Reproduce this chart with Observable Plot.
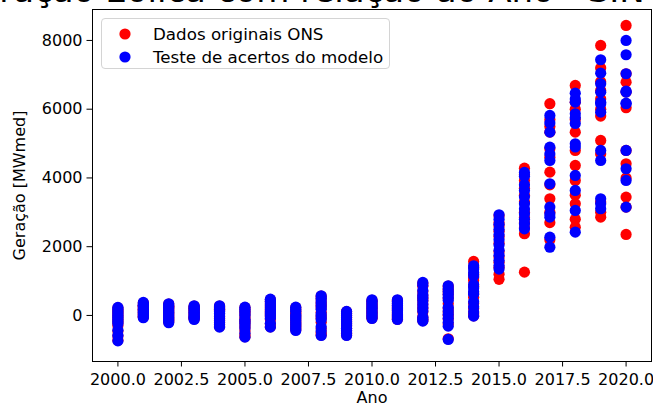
<!DOCTYPE html>
<html><head><meta charset="utf-8">
<script src="https://cdn.jsdelivr.net/npm/d3@7"></script>
<script src="https://cdn.jsdelivr.net/npm/@observablehq/plot@0.6"></script>
<style>
body{margin:0;background:#fff;}
#wrap{position:relative;width:653px;height:405px;overflow:hidden;font-family:"DejaVu Sans",sans-serif;background:#fff;}
#wrap > svg.chart{position:absolute;left:0;top:0;}
#title{position:absolute;left:0;top:0;display:block;}
#legend{position:absolute;left:101px;top:18px;width:289px;height:51px;border:1px solid #d4d4d4;border-radius:4px;background:rgba(255,255,255,0.8);box-sizing:border-box;font-size:16.7px;color:#000;padding-top:3px;}
#legend .row{display:flex;align-items:center;height:23.5px;white-space:nowrap;}
#legend svg{margin-left:17px;margin-right:22px;}
</style></head><body>
<div id="wrap"></div>
<script>
const anos = [2000,2001,2002,2003,2004,2005,2006,2007,2008,2009,2010,2011,2012,2013,2014,2015,2016,2017,2018,2019,2020];
const originais = [
  [220,150,90,20,-40,-100,-160,-220,-300,-450,-600,-720],
  [360,300,250,200,150,100,60,20,-20,-50,270,170],
  [330,270,210,160,110,60,10,-40,-90,-140,-190,250],
  [270,230,190,150,110,70,30,-10,-50,-80,-100,200],
  [270,210,150,100,40,-20,-80,-140,-200,-260,-320,180],
  [230,160,90,20,-67,-140,-200,-270,-350,-450,-560,-620],
  [460,390,320,260,200,140,80,20,-40,-120,-250,-330],
  [230,160,67,0,-60,-120,-180,-240,-300,-360,-420,100],
  [560,480,380,300,220,96,0,-80,-200,-380,-500,-570],
  [110,50,-10,-70,-130,-190,-250,-310,-380,-450,-520,-570],
  [440,390,340,290,240,190,140,90,40,-10,-60,-80],
  [440,390,330,280,230,180,130,80,30,-20,-80,-110],
  [940,850,700,580,500,420,310,210,110,-40,-100,-150],
  [850,760,680,600,500,340,200,100,0,-100,-250,-680],
  [1571,1400,1200,1100,1018,850,650,532,350,200,50,-10],
  [2900,2700,2600,2450,2300,2100,1850,1700,1550,1400,1200,1050],
  [4285,4100,3927,3700,3500,3300,3000,2850,2700,2550,2376,1260],
  [6159,5700,5500,5332,4850,4600,4169,3800,3395,3000,2700,2200],
  [6690,6205,6000,5700,5332,4800,4364,3927,3500,3249,2800,2569],
  [7854,7200,6800,6545,6300,6000,5800,5091,4700,3300,3000,2860],
  [8436,7031,6787,6500,6042,4800,4413,4000,3442,3150,2356]
];
const teste = [
  [233,180,120,60,0,-60,-120,-180,-240,-430,-580,-740],
  [378,330,280,230,180,130,90,50,10,-30,-67,300],
  [340,290,240,190,140,90,40,-10,-60,-110,-160,-212],
  [282,245,210,170,130,95,60,20,-20,-55,-90,-116],
  [282,230,175,120,65,10,-45,-100,-160,-220,-280,-340],
  [241,180,120,50,-10,-110,-170,-230,-300,-380,-520,-631],
  [474,410,350,290,230,170,110,50,-10,-80,-230,-340],
  [241,180,120,20,-30,-90,-150,-210,-270,-330,-390,-436],
  [573,500,420,340,260,180,40,-40,-120,-330,-450,-582],
  [116,60,0,-60,-120,-180,-240,-300,-370,-440,-510,-582],
  [457,410,360,310,260,210,160,110,60,10,-40,-87],
  [457,405,350,300,250,200,150,100,50,0,-60,-116],
  [960,880,727,600,520,436,330,230,130,-50,-110,-166],
  [864,780,700,620,530,440,230,130,30,-80,-200,-311,-698],
  [1446,1350,1250,1150,900,800,700,620,400,250,100,-20],
  [2929,2800,2650,2500,2350,2200,2050,1900,1750,1600,1450,1350],
  [4160,4050,3800,3636,3450,3249,3100,2958,2800,2667,2520],
  [5818,5600,5332,4896,4700,4509,3831,3151,2950,2860,2278,1986],
  [6467,6300,6205,5866,5750,5585,4995,4900,4073,3636,3054,2423],
  [7438,7049,6740,6496,6205,6158,5914,4800,4509,3395,3250,3103],
  [8000,7584,7031,6525,6496,6176,6158,4800,4267,3927,3151]
];
const serieNomes = ["Dados originais ONS", "Teste de acertos do modelo"];
const cores = ["#ff0000", "#0000ff"];
const xTicks = [2000, 2002.5, 2005, 2007.5, 2010, 2012.5, 2015, 2017.5, 2020];
const yTicks = [0, 2000, 4000, 6000, 8000];
const titulo = "Geração Eólica com relação ao Ano - SIN";
const rotuloX = "Ano";
const rotuloY = "Geração [MWmed]";

const rows = [];
[originais, teste].forEach((serie, s) => {
  anos.forEach((a, i) => serie[i].forEach(v => rows.push({ano: a, valor: v, serie: serieNomes[s]})));
});

const chart = Plot.plot({
  width: 653, height: 405,
  marginLeft: 92, marginRight: 2, marginTop: 9, marginBottom: 44,
  style: {fontFamily: "DejaVu Sans", fontSize: "16px", color: "#000", background: "transparent"},
  x: {domain: [1999, 2021], ticks: xTicks, tickFormat: d => d.toFixed(1), label: rotuloX, labelAnchor: "center", labelArrow: "none", labelOffset: 41, tickSize: 5.5, tickPadding: 7},
  y: {domain: [-1340, 8900], ticks: yTicks, tickFormat: d3.format("d"), label: rotuloY, labelAnchor: "center", labelArrow: "none", labelOffset: 79, tickSize: 5.5, tickPadding: 4.5},
  color: {domain: serieNomes, range: cores},
  marks: [
    Plot.dot(rows, {x: "ano", y: "valor", fill: "serie", r: 5.6}),
    Plot.frame({stroke: "#000", strokeWidth: 1})
  ]
});
chart.classList.add("chart");
const wrap = document.getElementById("wrap");
wrap.appendChild(chart);

// title (cut off at top, as in the reference)
const ns = "http://www.w3.org/2000/svg";
const tsvg = document.createElementNS(ns, "svg");
tsvg.setAttribute("id", "title");
tsvg.setAttribute("width", 653); tsvg.setAttribute("height", 20);
const tt = document.createElementNS(ns, "text");
tt.setAttribute("x", -48); tt.setAttribute("y", 2);
tt.setAttribute("font-family", "DejaVu Sans"); tt.setAttribute("font-size", 34); tt.setAttribute("fill", "#000");
tt.textContent = titulo;
tsvg.appendChild(tt);
wrap.appendChild(tsvg);

// legend
const leg = document.createElement("div");
leg.id = "legend";
serieNomes.forEach((n, i) => {
  const row = document.createElement("div");
  row.className = "row";
  row.innerHTML = `<svg width="12" height="12"><circle cx="6" cy="6" r="5.6" fill="${cores[i]}"/></svg><span>${n}</span>`;
  leg.appendChild(row);
});
wrap.appendChild(leg);
</script>
</body></html>
